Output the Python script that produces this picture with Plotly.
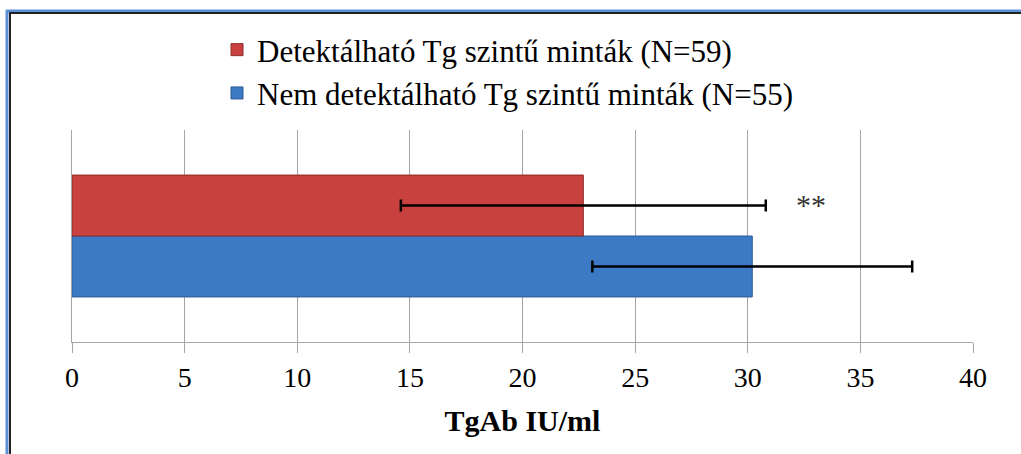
import plotly.graph_objects as go

# Data
series_names = ["Detektálható Tg szintű minták (N=59)", "Nem detektálható Tg szintű minták (N=55)"]
means = [22.7, 30.2]
errors = [8.1, 7.1]
category = [""]
x_ticks = [0, 5, 10, 15, 20, 25, 30, 35, 40]
axis_title = "TgAb IU/ml"
sig_label = "**"
sig_x = 32.8

colors = ["#C8413E", "#3D7AC6"]
edges = ["#8E2A28", "#2B5A96"]

W, H = 1021, 454
L, R, T, B = 72, 48, 130, 112
pw, ph = W - L - R, H - T - B

def px_x(px):
    return (px - L) / pw

def px_y(py):
    return (H - B - py) / ph

fig = go.Figure()
# Blue first so red appears on top in horizontal group
for i in [1, 0]:
    fig.add_trace(go.Bar(
        y=category, x=[means[i]], orientation="h", name=series_names[i],
        marker=dict(color=colors[i], line=dict(color=edges[i], width=1)),
        error_x=dict(type="data", array=[errors[i]], color="black", thickness=2.5, width=6),
        legendrank=i + 1,
    ))

fig.add_annotation(x=sig_x, xref="x", y=px_y(204), yref="paper", text=sig_label,
                   showarrow=False, font=dict(family="Liberation Serif", size=30, color="#333333"))

shapes = [
    dict(type="line", xref="paper", yref="paper", x0=px_x(6), x1=px_x(1021), y0=px_y(11), y1=px_y(11),
         line=dict(color="#5B8FD6", width=3)),
    dict(type="line", xref="paper", yref="paper", x0=px_x(7), x1=px_x(7), y0=px_y(10), y1=px_y(454),
         line=dict(color="#5B8FD6", width=3)),
    dict(type="line", xref="paper", yref="paper", x0=px_x(9), x1=px_x(1021), y0=px_y(13), y1=px_y(13),
         line=dict(color="#222222", width=2)),
    dict(type="line", xref="paper", yref="paper", x0=px_x(10), x1=px_x(10), y0=px_y(12), y1=px_y(454),
         line=dict(color="#222222", width=2)),
]

fig.update_layout(
    width=W, height=H,
    margin=dict(l=L, r=R, t=T, b=B),
    paper_bgcolor="white", plot_bgcolor="white",
    barmode="group", bargap=0.425,
    font=dict(family="Liberation Serif", color="black"),
    showlegend=True,
    legend=dict(x=px_x(217), xanchor="left", y=px_y(23), yanchor="top",
                font=dict(family="Liberation Serif", size=31, color="black"),
                bgcolor="rgba(0,0,0,0)", tracegroupgap=0),
    xaxis=dict(range=[0, 40], tickvals=x_ticks, ticktext=[str(t) for t in x_ticks],
               showgrid=True, gridcolor="#A6A6A6", gridwidth=1,
               showline=True, linecolor="#A6A6A6", linewidth=1,
               ticks="outside", ticklen=10, tickcolor="#A6A6A6",
               tickfont=dict(family="Liberation Serif", size=28, color="black"),
               title=dict(text="<b>" + axis_title + "</b>", font=dict(family="Liberation Serif", size=30, color="black"), standoff=18),
               zeroline=False),
    yaxis=dict(range=[-0.5, 0.5], showticklabels=False, showgrid=False,
               showline=True, linecolor="#A6A6A6", linewidth=1, zeroline=False, ticks=""),
    shapes=shapes,
)

fig.write_html("out.html")
